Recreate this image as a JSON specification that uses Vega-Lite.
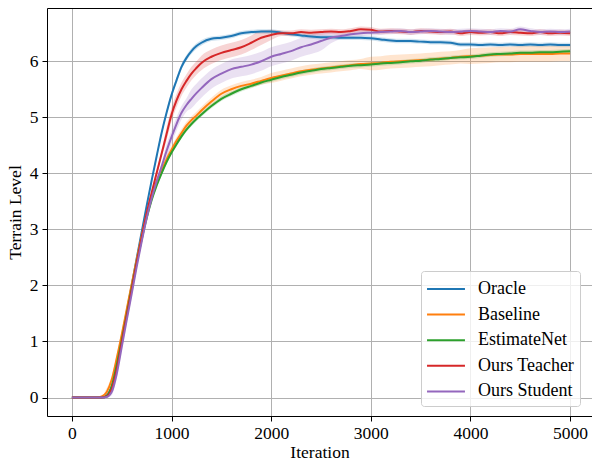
{
"$schema":"https://vega.github.io/schema/vega-lite/v6.json",
"width":545,"height":408,
"autosize":{"type":"none"},
"padding":{"left":47,"top":8,"right":0,"bottom":46},
"background":"white",
"config":{
 "font":"Liberation Serif",
 "view":{"stroke":null},
 "axis":{"domainColor":"black","domainWidth":1,"tickColor":"black","tickSize":5,"tickWidth":1,"gridColor":"#b0b0b0","gridWidth":1,"gridOpacity":1,"labelFont":"Liberation Serif","labelFontSize":17.5,"labelColor":"black","titleFont":"Liberation Serif","titleFontSize":17.5,"titleFontWeight":"normal","titleColor":"black","labelPadding":3},
 "legend":{"labelFont":"Liberation Serif","labelFontSize":18,"labelColor":"black"}
},
"data":{"values":[
{"s":"Oracle","x":0,"y":0,"lo":0,"hi":0},{"s":"Oracle","x":250,"y":0,"lo":0,"hi":0},{"s":"Oracle","x":300,"y":0,"lo":0,"hi":0.01},{"s":"Oracle","x":350,"y":0.03,"lo":0,"hi":0.07},{"s":"Oracle","x":400,"y":0.2,"lo":0.15,"hi":0.25},{"s":"Oracle","x":450,"y":0.55,"lo":0.5,"hi":0.6},{"s":"Oracle","x":500,"y":1.05,"lo":1.0,"hi":1.1},{"s":"Oracle","x":550,"y":1.52,"lo":1.47,"hi":1.57},{"s":"Oracle","x":600,"y":2.0,"lo":1.95,"hi":2.05},{"s":"Oracle","x":650,"y":2.48,"lo":2.43,"hi":2.53},{"s":"Oracle","x":700,"y":2.95,"lo":2.9,"hi":3.0},{"s":"Oracle","x":750,"y":3.42,"lo":3.37,"hi":3.47},{"s":"Oracle","x":800,"y":3.87,"lo":3.82,"hi":3.92},{"s":"Oracle","x":850,"y":4.3,"lo":4.25,"hi":4.35},{"s":"Oracle","x":900,"y":4.72,"lo":4.67,"hi":4.77},{"s":"Oracle","x":950,"y":5.08,"lo":5.03,"hi":5.13},{"s":"Oracle","x":1000,"y":5.4,"lo":5.35,"hi":5.45},{"s":"Oracle","x":1050,"y":5.66,"lo":5.61,"hi":5.71},{"s":"Oracle","x":1100,"y":5.9,"lo":5.85,"hi":5.95},{"s":"Oracle","x":1150,"y":6.06,"lo":6.01,"hi":6.11},{"s":"Oracle","x":1200,"y":6.18,"lo":6.13,"hi":6.23},{"s":"Oracle","x":1250,"y":6.27,"lo":6.22,"hi":6.32},{"s":"Oracle","x":1300,"y":6.33,"lo":6.28,"hi":6.38},{"s":"Oracle","x":1400,"y":6.4,"lo":6.36,"hi":6.44},{"s":"Oracle","x":1500,"y":6.42,"lo":6.38,"hi":6.46},{"s":"Oracle","x":1600,"y":6.45,"lo":6.41,"hi":6.49},{"s":"Oracle","x":1700,"y":6.5,"lo":6.46,"hi":6.54},{"s":"Oracle","x":1800,"y":6.52,"lo":6.48,"hi":6.56},{"s":"Oracle","x":1900,"y":6.53,"lo":6.49,"hi":6.57},{"s":"Oracle","x":2000,"y":6.53,"lo":6.49,"hi":6.57},{"s":"Oracle","x":2100,"y":6.51,"lo":6.47,"hi":6.55},{"s":"Oracle","x":2200,"y":6.48,"lo":6.44,"hi":6.52},{"s":"Oracle","x":2300,"y":6.46,"lo":6.42,"hi":6.5},{"s":"Oracle","x":2400,"y":6.44,"lo":6.4,"hi":6.48},{"s":"Oracle","x":2500,"y":6.43,"lo":6.39,"hi":6.47},{"s":"Oracle","x":2600,"y":6.43,"lo":6.39,"hi":6.47},{"s":"Oracle","x":2700,"y":6.42,"lo":6.38,"hi":6.46},{"s":"Oracle","x":2800,"y":6.42,"lo":6.38,"hi":6.46},{"s":"Oracle","x":2900,"y":6.42,"lo":6.38,"hi":6.46},{"s":"Oracle","x":3000,"y":6.41,"lo":6.37,"hi":6.45},{"s":"Oracle","x":3100,"y":6.39,"lo":6.35,"hi":6.43},{"s":"Oracle","x":3200,"y":6.37,"lo":6.33,"hi":6.41},{"s":"Oracle","x":3300,"y":6.36,"lo":6.32,"hi":6.4},{"s":"Oracle","x":3400,"y":6.36,"lo":6.32,"hi":6.4},{"s":"Oracle","x":3500,"y":6.35,"lo":6.31,"hi":6.39},{"s":"Oracle","x":3600,"y":6.34,"lo":6.3,"hi":6.38},{"s":"Oracle","x":3700,"y":6.34,"lo":6.3,"hi":6.38},{"s":"Oracle","x":3800,"y":6.33,"lo":6.29,"hi":6.37},{"s":"Oracle","x":3900,"y":6.3,"lo":6.26,"hi":6.34},{"s":"Oracle","x":4000,"y":6.3,"lo":6.26,"hi":6.34},{"s":"Oracle","x":4100,"y":6.29,"lo":6.25,"hi":6.33},{"s":"Oracle","x":4200,"y":6.3,"lo":6.26,"hi":6.34},{"s":"Oracle","x":4300,"y":6.29,"lo":6.25,"hi":6.33},{"s":"Oracle","x":4400,"y":6.3,"lo":6.26,"hi":6.34},{"s":"Oracle","x":4500,"y":6.29,"lo":6.25,"hi":6.33},{"s":"Oracle","x":4600,"y":6.3,"lo":6.26,"hi":6.34},{"s":"Oracle","x":4700,"y":6.29,"lo":6.25,"hi":6.33},{"s":"Oracle","x":4800,"y":6.3,"lo":6.26,"hi":6.34},{"s":"Oracle","x":4900,"y":6.29,"lo":6.25,"hi":6.33},{"s":"Oracle","x":5000,"y":6.29,"lo":6.25,"hi":6.33},
{"s":"Baseline","x":0,"y":0,"lo":0,"hi":0.01},{"s":"Baseline","x":250,"y":0,"lo":0,"hi":0.01},{"s":"Baseline","x":300,"y":0.02,"lo":0.01,"hi":0.03},{"s":"Baseline","x":350,"y":0.1,"lo":0.03,"hi":0.17},{"s":"Baseline","x":400,"y":0.32,"lo":0.25,"hi":0.39},{"s":"Baseline","x":450,"y":0.7,"lo":0.63,"hi":0.77},{"s":"Baseline","x":500,"y":1.12,"lo":1.05,"hi":1.19},{"s":"Baseline","x":550,"y":1.57,"lo":1.5,"hi":1.64},{"s":"Baseline","x":600,"y":2.02,"lo":1.95,"hi":2.09},{"s":"Baseline","x":650,"y":2.46,"lo":2.39,"hi":2.53},{"s":"Baseline","x":700,"y":2.88,"lo":2.81,"hi":2.95},{"s":"Baseline","x":750,"y":3.27,"lo":3.2,"hi":3.34},{"s":"Baseline","x":800,"y":3.6,"lo":3.53,"hi":3.67},{"s":"Baseline","x":850,"y":3.85,"lo":3.78,"hi":3.92},{"s":"Baseline","x":900,"y":4.05,"lo":3.98,"hi":4.12},{"s":"Baseline","x":950,"y":4.25,"lo":4.18,"hi":4.32},{"s":"Baseline","x":1000,"y":4.42,"lo":4.35,"hi":4.49},{"s":"Baseline","x":1050,"y":4.58,"lo":4.51,"hi":4.65},{"s":"Baseline","x":1100,"y":4.72,"lo":4.65,"hi":4.79},{"s":"Baseline","x":1150,"y":4.85,"lo":4.78,"hi":4.92},{"s":"Baseline","x":1200,"y":4.95,"lo":4.88,"hi":5.02},{"s":"Baseline","x":1250,"y":5.03,"lo":4.96,"hi":5.1},{"s":"Baseline","x":1300,"y":5.12,"lo":5.05,"hi":5.19},{"s":"Baseline","x":1400,"y":5.28,"lo":5.21,"hi":5.35},{"s":"Baseline","x":1500,"y":5.42,"lo":5.35,"hi":5.49},{"s":"Baseline","x":1600,"y":5.5,"lo":5.43,"hi":5.57},{"s":"Baseline","x":1700,"y":5.56,"lo":5.49,"hi":5.63},{"s":"Baseline","x":1800,"y":5.6,"lo":5.53,"hi":5.67},{"s":"Baseline","x":1900,"y":5.65,"lo":5.58,"hi":5.72},{"s":"Baseline","x":2000,"y":5.7,"lo":5.61,"hi":5.79},{"s":"Baseline","x":2100,"y":5.74,"lo":5.65,"hi":5.83},{"s":"Baseline","x":2200,"y":5.78,"lo":5.69,"hi":5.87},{"s":"Baseline","x":2300,"y":5.82,"lo":5.73,"hi":5.91},{"s":"Baseline","x":2400,"y":5.85,"lo":5.76,"hi":5.94},{"s":"Baseline","x":2500,"y":5.87,"lo":5.78,"hi":5.96},{"s":"Baseline","x":2600,"y":5.89,"lo":5.8,"hi":5.98},{"s":"Baseline","x":2700,"y":5.91,"lo":5.82,"hi":6.0},{"s":"Baseline","x":2800,"y":5.93,"lo":5.84,"hi":6.02},{"s":"Baseline","x":2900,"y":5.95,"lo":5.86,"hi":6.04},{"s":"Baseline","x":3000,"y":5.96,"lo":5.84,"hi":6.08},{"s":"Baseline","x":3100,"y":5.97,"lo":5.85,"hi":6.09},{"s":"Baseline","x":3200,"y":5.99,"lo":5.87,"hi":6.11},{"s":"Baseline","x":3300,"y":6.0,"lo":5.88,"hi":6.12},{"s":"Baseline","x":3400,"y":6.01,"lo":5.89,"hi":6.13},{"s":"Baseline","x":3500,"y":6.02,"lo":5.9,"hi":6.14},{"s":"Baseline","x":3600,"y":6.03,"lo":5.91,"hi":6.15},{"s":"Baseline","x":3700,"y":6.05,"lo":5.93,"hi":6.17},{"s":"Baseline","x":3800,"y":6.06,"lo":5.94,"hi":6.18},{"s":"Baseline","x":3900,"y":6.08,"lo":5.96,"hi":6.2},{"s":"Baseline","x":4000,"y":6.09,"lo":5.95,"hi":6.23},{"s":"Baseline","x":4100,"y":6.1,"lo":5.96,"hi":6.24},{"s":"Baseline","x":4200,"y":6.11,"lo":5.97,"hi":6.25},{"s":"Baseline","x":4300,"y":6.12,"lo":5.98,"hi":6.26},{"s":"Baseline","x":4400,"y":6.12,"lo":5.98,"hi":6.26},{"s":"Baseline","x":4500,"y":6.13,"lo":5.99,"hi":6.27},{"s":"Baseline","x":4600,"y":6.13,"lo":5.99,"hi":6.27},{"s":"Baseline","x":4700,"y":6.13,"lo":5.99,"hi":6.27},{"s":"Baseline","x":4800,"y":6.13,"lo":5.99,"hi":6.27},{"s":"Baseline","x":4900,"y":6.14,"lo":6.0,"hi":6.28},{"s":"Baseline","x":5000,"y":6.14,"lo":6.0,"hi":6.28},
{"s":"EstimateNet","x":0,"y":0,"lo":0,"hi":0},{"s":"EstimateNet","x":250,"y":0,"lo":0,"hi":0},{"s":"EstimateNet","x":300,"y":0,"lo":0,"hi":0.01},{"s":"EstimateNet","x":350,"y":0.03,"lo":0,"hi":0.07},{"s":"EstimateNet","x":400,"y":0.2,"lo":0.16,"hi":0.24},{"s":"EstimateNet","x":450,"y":0.58,"lo":0.54,"hi":0.62},{"s":"EstimateNet","x":500,"y":1.02,"lo":0.98,"hi":1.06},{"s":"EstimateNet","x":550,"y":1.48,"lo":1.44,"hi":1.52},{"s":"EstimateNet","x":600,"y":1.95,"lo":1.91,"hi":1.99},{"s":"EstimateNet","x":650,"y":2.4,"lo":2.36,"hi":2.44},{"s":"EstimateNet","x":700,"y":2.82,"lo":2.78,"hi":2.86},{"s":"EstimateNet","x":750,"y":3.2,"lo":3.16,"hi":3.24},{"s":"EstimateNet","x":800,"y":3.52,"lo":3.48,"hi":3.56},{"s":"EstimateNet","x":850,"y":3.78,"lo":3.74,"hi":3.82},{"s":"EstimateNet","x":900,"y":4.0,"lo":3.96,"hi":4.04},{"s":"EstimateNet","x":950,"y":4.2,"lo":4.16,"hi":4.24},{"s":"EstimateNet","x":1000,"y":4.37,"lo":4.33,"hi":4.41},{"s":"EstimateNet","x":1050,"y":4.52,"lo":4.48,"hi":4.56},{"s":"EstimateNet","x":1100,"y":4.66,"lo":4.62,"hi":4.7},{"s":"EstimateNet","x":1150,"y":4.78,"lo":4.74,"hi":4.82},{"s":"EstimateNet","x":1200,"y":4.88,"lo":4.84,"hi":4.92},{"s":"EstimateNet","x":1250,"y":4.97,"lo":4.93,"hi":5.01},{"s":"EstimateNet","x":1300,"y":5.05,"lo":5.01,"hi":5.09},{"s":"EstimateNet","x":1400,"y":5.2,"lo":5.16,"hi":5.24},{"s":"EstimateNet","x":1500,"y":5.33,"lo":5.29,"hi":5.37},{"s":"EstimateNet","x":1600,"y":5.42,"lo":5.38,"hi":5.46},{"s":"EstimateNet","x":1700,"y":5.5,"lo":5.46,"hi":5.54},{"s":"EstimateNet","x":1800,"y":5.56,"lo":5.52,"hi":5.6},{"s":"EstimateNet","x":1900,"y":5.62,"lo":5.58,"hi":5.66},{"s":"EstimateNet","x":2000,"y":5.67,"lo":5.63,"hi":5.71},{"s":"EstimateNet","x":2100,"y":5.72,"lo":5.68,"hi":5.76},{"s":"EstimateNet","x":2200,"y":5.76,"lo":5.72,"hi":5.8},{"s":"EstimateNet","x":2300,"y":5.8,"lo":5.76,"hi":5.84},{"s":"EstimateNet","x":2400,"y":5.83,"lo":5.79,"hi":5.87},{"s":"EstimateNet","x":2500,"y":5.86,"lo":5.82,"hi":5.9},{"s":"EstimateNet","x":2600,"y":5.88,"lo":5.84,"hi":5.92},{"s":"EstimateNet","x":2700,"y":5.9,"lo":5.86,"hi":5.94},{"s":"EstimateNet","x":2800,"y":5.92,"lo":5.88,"hi":5.96},{"s":"EstimateNet","x":2900,"y":5.93,"lo":5.89,"hi":5.97},{"s":"EstimateNet","x":3000,"y":5.94,"lo":5.9,"hi":5.98},{"s":"EstimateNet","x":3100,"y":5.96,"lo":5.92,"hi":6.0},{"s":"EstimateNet","x":3200,"y":5.97,"lo":5.93,"hi":6.01},{"s":"EstimateNet","x":3300,"y":5.98,"lo":5.94,"hi":6.02},{"s":"EstimateNet","x":3400,"y":6.0,"lo":5.96,"hi":6.04},{"s":"EstimateNet","x":3500,"y":6.01,"lo":5.97,"hi":6.05},{"s":"EstimateNet","x":3600,"y":6.03,"lo":5.99,"hi":6.07},{"s":"EstimateNet","x":3700,"y":6.04,"lo":6.0,"hi":6.08},{"s":"EstimateNet","x":3800,"y":6.06,"lo":6.02,"hi":6.1},{"s":"EstimateNet","x":3900,"y":6.07,"lo":6.03,"hi":6.11},{"s":"EstimateNet","x":4000,"y":6.08,"lo":6.04,"hi":6.12},{"s":"EstimateNet","x":4100,"y":6.1,"lo":6.06,"hi":6.14},{"s":"EstimateNet","x":4200,"y":6.12,"lo":6.08,"hi":6.16},{"s":"EstimateNet","x":4300,"y":6.13,"lo":6.09,"hi":6.17},{"s":"EstimateNet","x":4400,"y":6.14,"lo":6.1,"hi":6.18},{"s":"EstimateNet","x":4500,"y":6.15,"lo":6.11,"hi":6.19},{"s":"EstimateNet","x":4600,"y":6.15,"lo":6.11,"hi":6.19},{"s":"EstimateNet","x":4700,"y":6.16,"lo":6.12,"hi":6.2},{"s":"EstimateNet","x":4800,"y":6.16,"lo":6.12,"hi":6.2},{"s":"EstimateNet","x":4900,"y":6.17,"lo":6.13,"hi":6.21},{"s":"EstimateNet","x":5000,"y":6.18,"lo":6.14,"hi":6.22},
{"s":"Ours Teacher","x":0,"y":0,"lo":0,"hi":0},{"s":"Ours Teacher","x":250,"y":0,"lo":0,"hi":0},{"s":"Ours Teacher","x":300,"y":0,"lo":0,"hi":0.01},{"s":"Ours Teacher","x":350,"y":0.02,"lo":0,"hi":0.08},{"s":"Ours Teacher","x":400,"y":0.15,"lo":0.09,"hi":0.21},{"s":"Ours Teacher","x":450,"y":0.5,"lo":0.44,"hi":0.56},{"s":"Ours Teacher","x":500,"y":0.98,"lo":0.92,"hi":1.04},{"s":"Ours Teacher","x":550,"y":1.45,"lo":1.39,"hi":1.51},{"s":"Ours Teacher","x":600,"y":1.92,"lo":1.86,"hi":1.98},{"s":"Ours Teacher","x":650,"y":2.4,"lo":2.34,"hi":2.46},{"s":"Ours Teacher","x":700,"y":2.85,"lo":2.79,"hi":2.91},{"s":"Ours Teacher","x":750,"y":3.28,"lo":3.22,"hi":3.34},{"s":"Ours Teacher","x":800,"y":3.65,"lo":3.59,"hi":3.71},{"s":"Ours Teacher","x":850,"y":4.0,"lo":3.94,"hi":4.06},{"s":"Ours Teacher","x":900,"y":4.35,"lo":4.29,"hi":4.41},{"s":"Ours Teacher","x":950,"y":4.7,"lo":4.58,"hi":4.82},{"s":"Ours Teacher","x":1000,"y":5.05,"lo":4.93,"hi":5.17},{"s":"Ours Teacher","x":1050,"y":5.3,"lo":5.18,"hi":5.42},{"s":"Ours Teacher","x":1100,"y":5.5,"lo":5.38,"hi":5.62},{"s":"Ours Teacher","x":1150,"y":5.65,"lo":5.53,"hi":5.77},{"s":"Ours Teacher","x":1200,"y":5.78,"lo":5.66,"hi":5.9},{"s":"Ours Teacher","x":1250,"y":5.88,"lo":5.76,"hi":6.0},{"s":"Ours Teacher","x":1300,"y":5.97,"lo":5.84,"hi":6.1},{"s":"Ours Teacher","x":1400,"y":6.08,"lo":5.95,"hi":6.21},{"s":"Ours Teacher","x":1500,"y":6.15,"lo":6.02,"hi":6.28},{"s":"Ours Teacher","x":1600,"y":6.2,"lo":6.07,"hi":6.33},{"s":"Ours Teacher","x":1700,"y":6.25,"lo":6.12,"hi":6.38},{"s":"Ours Teacher","x":1800,"y":6.33,"lo":6.2,"hi":6.46},{"s":"Ours Teacher","x":1900,"y":6.42,"lo":6.29,"hi":6.55},{"s":"Ours Teacher","x":2000,"y":6.47,"lo":6.38,"hi":6.56},{"s":"Ours Teacher","x":2100,"y":6.5,"lo":6.45,"hi":6.55},{"s":"Ours Teacher","x":2200,"y":6.5,"lo":6.45,"hi":6.55},{"s":"Ours Teacher","x":2300,"y":6.52,"lo":6.47,"hi":6.57},{"s":"Ours Teacher","x":2400,"y":6.51,"lo":6.46,"hi":6.56},{"s":"Ours Teacher","x":2500,"y":6.52,"lo":6.47,"hi":6.57},{"s":"Ours Teacher","x":2600,"y":6.53,"lo":6.48,"hi":6.58},{"s":"Ours Teacher","x":2700,"y":6.52,"lo":6.47,"hi":6.57},{"s":"Ours Teacher","x":2800,"y":6.54,"lo":6.49,"hi":6.59},{"s":"Ours Teacher","x":2900,"y":6.57,"lo":6.52,"hi":6.62},{"s":"Ours Teacher","x":3000,"y":6.56,"lo":6.51,"hi":6.61},{"s":"Ours Teacher","x":3100,"y":6.53,"lo":6.48,"hi":6.58},{"s":"Ours Teacher","x":3200,"y":6.54,"lo":6.49,"hi":6.59},{"s":"Ours Teacher","x":3300,"y":6.53,"lo":6.48,"hi":6.58},{"s":"Ours Teacher","x":3400,"y":6.52,"lo":6.47,"hi":6.57},{"s":"Ours Teacher","x":3500,"y":6.54,"lo":6.49,"hi":6.59},{"s":"Ours Teacher","x":3600,"y":6.53,"lo":6.48,"hi":6.58},{"s":"Ours Teacher","x":3700,"y":6.52,"lo":6.47,"hi":6.57},{"s":"Ours Teacher","x":3800,"y":6.53,"lo":6.48,"hi":6.58},{"s":"Ours Teacher","x":3900,"y":6.5,"lo":6.45,"hi":6.55},{"s":"Ours Teacher","x":4000,"y":6.52,"lo":6.47,"hi":6.57},{"s":"Ours Teacher","x":4100,"y":6.51,"lo":6.46,"hi":6.56},{"s":"Ours Teacher","x":4200,"y":6.52,"lo":6.47,"hi":6.57},{"s":"Ours Teacher","x":4300,"y":6.5,"lo":6.45,"hi":6.55},{"s":"Ours Teacher","x":4400,"y":6.52,"lo":6.47,"hi":6.57},{"s":"Ours Teacher","x":4500,"y":6.51,"lo":6.46,"hi":6.56},{"s":"Ours Teacher","x":4600,"y":6.5,"lo":6.45,"hi":6.55},{"s":"Ours Teacher","x":4700,"y":6.52,"lo":6.47,"hi":6.57},{"s":"Ours Teacher","x":4800,"y":6.5,"lo":6.45,"hi":6.55},{"s":"Ours Teacher","x":4900,"y":6.51,"lo":6.46,"hi":6.56},{"s":"Ours Teacher","x":5000,"y":6.5,"lo":6.45,"hi":6.55},
{"s":"Ours Student","x":0,"y":0,"lo":0,"hi":0},{"s":"Ours Student","x":250,"y":0,"lo":0,"hi":0},{"s":"Ours Student","x":300,"y":0,"lo":0,"hi":0.01},{"s":"Ours Student","x":350,"y":0.01,"lo":0,"hi":0.07},{"s":"Ours Student","x":400,"y":0.1,"lo":0.04,"hi":0.16},{"s":"Ours Student","x":450,"y":0.42,"lo":0.36,"hi":0.48},{"s":"Ours Student","x":500,"y":0.9,"lo":0.84,"hi":0.96},{"s":"Ours Student","x":550,"y":1.38,"lo":1.32,"hi":1.44},{"s":"Ours Student","x":600,"y":1.85,"lo":1.79,"hi":1.91},{"s":"Ours Student","x":650,"y":2.33,"lo":2.27,"hi":2.39},{"s":"Ours Student","x":700,"y":2.78,"lo":2.72,"hi":2.84},{"s":"Ours Student","x":750,"y":3.2,"lo":3.14,"hi":3.26},{"s":"Ours Student","x":800,"y":3.55,"lo":3.49,"hi":3.61},{"s":"Ours Student","x":850,"y":3.85,"lo":3.79,"hi":3.91},{"s":"Ours Student","x":900,"y":4.12,"lo":4.06,"hi":4.18},{"s":"Ours Student","x":950,"y":4.4,"lo":4.28,"hi":4.52},{"s":"Ours Student","x":1000,"y":4.65,"lo":4.53,"hi":4.77},{"s":"Ours Student","x":1050,"y":4.88,"lo":4.76,"hi":5.0},{"s":"Ours Student","x":1100,"y":5.08,"lo":4.96,"hi":5.2},{"s":"Ours Student","x":1150,"y":5.22,"lo":5.1,"hi":5.34},{"s":"Ours Student","x":1200,"y":5.33,"lo":5.16,"hi":5.5},{"s":"Ours Student","x":1250,"y":5.43,"lo":5.26,"hi":5.6},{"s":"Ours Student","x":1300,"y":5.52,"lo":5.35,"hi":5.69},{"s":"Ours Student","x":1400,"y":5.68,"lo":5.51,"hi":5.85},{"s":"Ours Student","x":1500,"y":5.78,"lo":5.61,"hi":5.95},{"s":"Ours Student","x":1600,"y":5.86,"lo":5.69,"hi":6.03},{"s":"Ours Student","x":1700,"y":5.9,"lo":5.73,"hi":6.07},{"s":"Ours Student","x":1800,"y":5.94,"lo":5.77,"hi":6.11},{"s":"Ours Student","x":1900,"y":6.0,"lo":5.83,"hi":6.17},{"s":"Ours Student","x":2000,"y":6.08,"lo":5.91,"hi":6.25},{"s":"Ours Student","x":2100,"y":6.13,"lo":5.96,"hi":6.3},{"s":"Ours Student","x":2200,"y":6.18,"lo":6.01,"hi":6.35},{"s":"Ours Student","x":2300,"y":6.25,"lo":6.08,"hi":6.42},{"s":"Ours Student","x":2400,"y":6.3,"lo":6.13,"hi":6.47},{"s":"Ours Student","x":2500,"y":6.36,"lo":6.19,"hi":6.53},{"s":"Ours Student","x":2600,"y":6.42,"lo":6.32,"hi":6.52},{"s":"Ours Student","x":2700,"y":6.45,"lo":6.4,"hi":6.5},{"s":"Ours Student","x":2800,"y":6.48,"lo":6.43,"hi":6.53},{"s":"Ours Student","x":2900,"y":6.5,"lo":6.45,"hi":6.55},{"s":"Ours Student","x":3000,"y":6.51,"lo":6.46,"hi":6.56},{"s":"Ours Student","x":3100,"y":6.52,"lo":6.47,"hi":6.57},{"s":"Ours Student","x":3200,"y":6.53,"lo":6.48,"hi":6.58},{"s":"Ours Student","x":3300,"y":6.54,"lo":6.49,"hi":6.59},{"s":"Ours Student","x":3400,"y":6.52,"lo":6.47,"hi":6.57},{"s":"Ours Student","x":3500,"y":6.53,"lo":6.48,"hi":6.58},{"s":"Ours Student","x":3600,"y":6.54,"lo":6.49,"hi":6.59},{"s":"Ours Student","x":3700,"y":6.53,"lo":6.48,"hi":6.58},{"s":"Ours Student","x":3800,"y":6.52,"lo":6.47,"hi":6.57},{"s":"Ours Student","x":3900,"y":6.53,"lo":6.48,"hi":6.58},{"s":"Ours Student","x":4000,"y":6.54,"lo":6.49,"hi":6.59},{"s":"Ours Student","x":4100,"y":6.53,"lo":6.48,"hi":6.58},{"s":"Ours Student","x":4200,"y":6.52,"lo":6.47,"hi":6.57},{"s":"Ours Student","x":4300,"y":6.54,"lo":6.49,"hi":6.59},{"s":"Ours Student","x":4400,"y":6.53,"lo":6.48,"hi":6.58},{"s":"Ours Student","x":4500,"y":6.57,"lo":6.52,"hi":6.62},{"s":"Ours Student","x":4600,"y":6.54,"lo":6.49,"hi":6.59},{"s":"Ours Student","x":4700,"y":6.52,"lo":6.47,"hi":6.57},{"s":"Ours Student","x":4800,"y":6.53,"lo":6.48,"hi":6.58},{"s":"Ours Student","x":4900,"y":6.52,"lo":6.47,"hi":6.57},{"s":"Ours Student","x":5000,"y":6.53,"lo":6.48,"hi":6.58}
]},
"resolve":{"axis":{"x":"independent"}},
"layer":[
 {"mark":{"type":"area","opacity":0.2,"interpolate":"monotone"},
  "encoding":{
   "x":{"field":"x","type":"quantitative","scale":{"domain":[-250,5220],"nice":false,"zero":false},"axis":{"orient":"top","labels":false,"ticks":false,"grid":false,"title":null,"domain":true}},
   "y":{"field":"lo","type":"quantitative","scale":{"domain":[-0.33,6.95],"nice":false,"zero":false},"axis":{"values":[0,1,2,3,4,5,6],"format":"d","title":"Terrain Level","titlePadding":5,"labelPadding":4,"labelFont":"Liberation Serif","labelFontSize":17.5,"titleFont":"Liberation Serif","titleFontSize":17.5}},
   "y2":{"field":"hi"},
   "color":{"field":"s","type":"nominal","scale":{"domain":["Oracle","Baseline","EstimateNet","Ours Teacher","Ours Student"],"range":["#1f77b4","#ff7f0e","#2ca02c","#d62728","#9467bd"]},
     "legend":{"title":null,"orient":"none","legendX":374,"legendY":263,"padding":5,"fillColor":"rgba(255,255,255,0.8)","strokeColor":"#cccccc","cornerRadius":3,"symbolType":"M-1.58,0H1.58","symbolSize":576,"symbolOffset":7,"symbolStrokeWidth":2,"symbolOpacity":1,"labelOffset":19,"rowPadding":3.6,"labelFont":"Liberation Serif","labelFontSize":18}}
  }},
 {"mark":{"type":"line","strokeWidth":2,"interpolate":"monotone"},
  "encoding":{
   "x":{"field":"x","type":"quantitative","scale":{"domain":[-250,5220],"nice":false,"zero":false},"axis":{"orient":"bottom","values":[0,1000,2000,3000,4000,5000],"format":"d","title":"Iteration","titlePadding":2,"grid":true,"labelFont":"Liberation Serif","labelFontSize":17.5,"titleFont":"Liberation Serif","titleFontSize":17.5}},
   "y":{"field":"y","type":"quantitative"},
   "color":{"field":"s","type":"nominal","scale":{"domain":["Oracle","Baseline","EstimateNet","Ours Teacher","Ours Student"],"range":["#1f77b4","#ff7f0e","#2ca02c","#d62728","#9467bd"]},
     "legend":{"title":null,"orient":"none","legendX":374,"legendY":263,"padding":5,"fillColor":"rgba(255,255,255,0.8)","strokeColor":"#cccccc","cornerRadius":3,"symbolType":"M-1.58,0H1.58","symbolSize":576,"symbolOffset":7,"symbolStrokeWidth":2,"symbolOpacity":1,"labelOffset":19,"rowPadding":3.6,"labelFont":"Liberation Serif","labelFontSize":18}}
  }}
]
}
